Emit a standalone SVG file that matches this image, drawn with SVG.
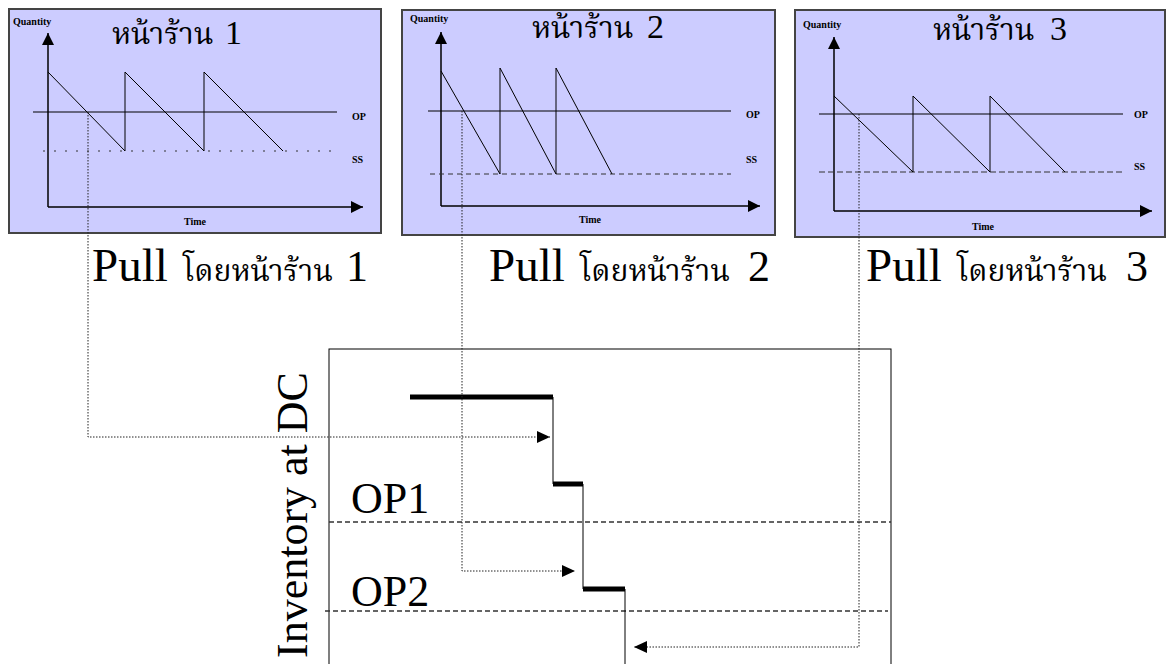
<svg xmlns="http://www.w3.org/2000/svg" width="1166" height="664" viewBox="0 0 1166 664">
<defs>
<style>
.panel{fill:#CCCCFF;stroke:#444;stroke-width:2}
.axis{fill:none;stroke:#000;stroke-width:1.5}
.line{fill:none;stroke:#000;stroke-width:1}
.ss{fill:none;stroke:#333;stroke-width:1}
.small{font-family:"Liberation Serif","Times New Roman",serif;font-weight:bold;font-size:10px;fill:#000}
.title{font-family:"Liberation Serif","Noto Serif Thai","Noto Sans Thai","DejaVu Serif",serif;font-size:30px;fill:#000}
.digit{font-size:34px}
.big{font-family:"Liberation Serif","Times New Roman",serif;font-size:44px;fill:#000}
.lbl{font-family:"Liberation Serif","Noto Serif Thai","Noto Sans Thai","DejaVu Serif",serif;font-size:47px;fill:#000}
.thai{font-size:30px}
.num{font-size:44px}
.dot{fill:none;stroke:#222;stroke-width:1;stroke-dasharray:1.5 1.5}
.dash{fill:none;stroke:#333;stroke-width:1.3;stroke-dasharray:5 3}
.thick{fill:none;stroke:#000;stroke-width:5}
</style>
<marker id="ah" viewBox="0 0 12 12" refX="12" refY="6" markerWidth="12" markerHeight="12" markerUnits="userSpaceOnUse" orient="auto">
<path d="M0,0 L12,6 L0,12 Z" fill="#000"/>
</marker>
<marker id="ca" viewBox="0 0 13 12" refX="13" refY="6" markerWidth="13" markerHeight="12" markerUnits="userSpaceOnUse" orient="auto">
<path d="M0,0 L13,6 L0,12 Z" fill="#000"/>
</marker>
</defs>
<rect width="1166" height="664" fill="#fff"/>

<g id="panel1">
<rect class="panel" x="9" y="9" width="372" height="224"/>
<text class="small" x="13" y="25">Quantity</text>
<text class="title" x="112" y="44">หน้าร้าน <tspan class="digit" x="225">1</tspan></text>
<path class="axis" d="M48,207 V33" marker-end="url(#ah)"/>
<path class="axis" d="M48,207 H363" marker-end="url(#ah)"/>
<path class="line" d="M33,112 H337"/>
<path class="ss" d="M43,151 H337" stroke-dasharray="2 9"/>
<path class="line" d="M48,72 L125,151 V72 L204,151 V72 L283,151"/>
<text class="small" x="352" y="120">OP</text>
<text class="small" x="352" y="163">SS</text>
<text class="small" x="195" y="225" text-anchor="middle">Time</text>
</g>

<g id="panel2">
<rect class="panel" x="402" y="10" width="373" height="225"/>
<text class="small" x="410" y="22">Quantity</text>
<text class="title" x="532" y="38">หน้าร้าน <tspan class="digit" x="647">2</tspan></text>
<path class="axis" d="M441,206 V32" marker-end="url(#ah)"/>
<path class="axis" d="M441,206 H760" marker-end="url(#ah)"/>
<path class="line" d="M428,111 H731"/>
<path class="ss" d="M430,174 H731" stroke-dasharray="5 4"/>
<path class="line" d="M441,71 L500,174 V68 L556,174 V68 L612,174"/>
<text class="small" x="746" y="118">OP</text>
<text class="small" x="746" y="163">SS</text>
<text class="small" x="590" y="223" text-anchor="middle">Time</text>
</g>

<g id="panel3">
<rect class="panel" x="795" y="10" width="370" height="227"/>
<text class="small" x="803" y="28">Quantity</text>
<text class="title" x="933" y="40">หน้าร้าน <tspan class="digit" x="1050">3</tspan></text>
<path class="axis" d="M834,211 V37" marker-end="url(#ah)"/>
<path class="axis" d="M834,211 H1152" marker-end="url(#ah)"/>
<path class="line" d="M819,114 H1123"/>
<path class="ss" d="M819,172 H1123" stroke-dasharray="6 3"/>
<path class="line" d="M834,96 L913,172 V96 L990,172 V96 L1065,172"/>
<text class="small" x="1134" y="118">OP</text>
<text class="small" x="1134" y="170">SS</text>
<text class="small" x="983" y="230" text-anchor="middle">Time</text>
</g>

<g id="labels">
<text class="lbl" x="92" y="281">Pull <tspan class="thai" x="183">โดยหน้าร้าน </tspan><tspan class="num" x="346">1</tspan></text>
<text class="lbl" x="489" y="281">Pull <tspan class="thai" x="580">โดยหน้าร้าน </tspan><tspan class="num" x="748">2</tspan></text>
<text class="lbl" x="866" y="281">Pull <tspan class="thai" x="957">โดยหน้าร้าน </tspan><tspan class="num" x="1126">3</tspan></text>
</g>

<g id="dc-chart">
<rect x="329" y="349" width="562" height="360" fill="none" stroke="#000" stroke-width="1"/>
<text class="big" transform="translate(307,658) rotate(-90)">Inventory at DC</text>
<path class="dash" d="M329,522 H891"/>
<path class="dash" d="M325,611 H888"/>
<text class="big" x="351" y="513">OP1</text>
<text class="big" x="351" y="606">OP2</text>
<path class="thick" d="M410,397 H553"/>
<path class="thick" d="M553,484 H583"/>
<path class="thick" d="M583,589 H625"/>
<path class="line" d="M553,397 V484 M583,484 V589 M625,589 V664"/>
</g>

<g id="connectors">
<path class="dot" d="M88,112 V437 H550" marker-end="url(#ca)"/>
<path class="dot" d="M462,111 V571 H575" marker-end="url(#ca)"/>
<path class="dot" d="M859,114 V647 H634" marker-end="url(#ca)"/>
</g>
</svg>
